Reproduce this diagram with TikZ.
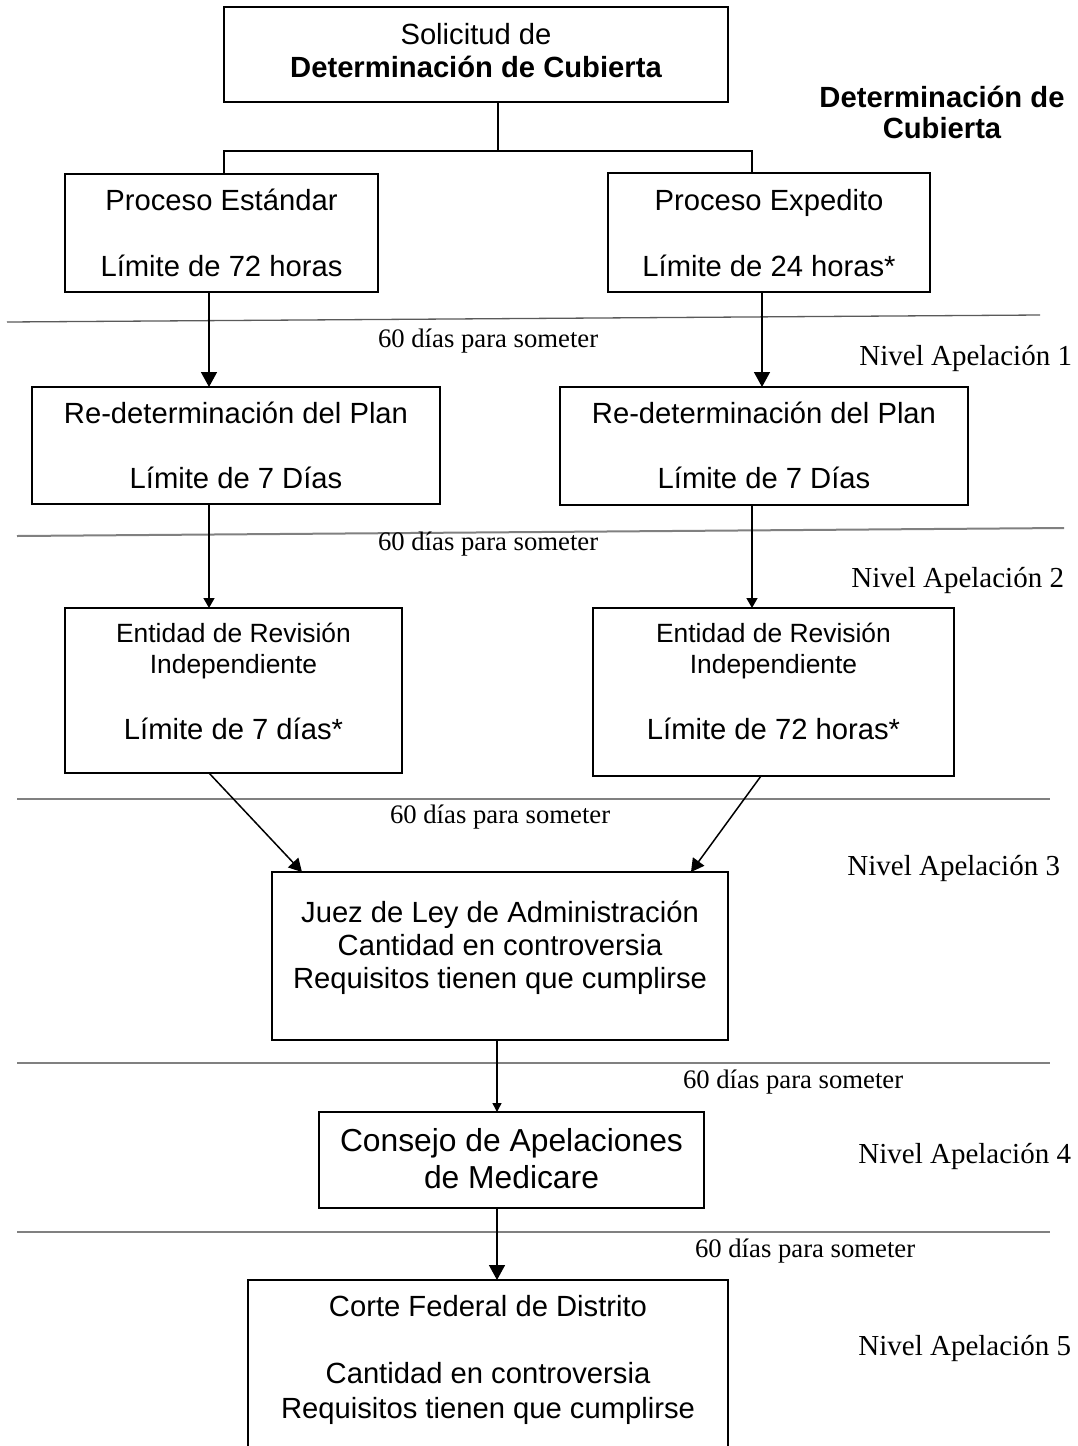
\documentclass[tikz,border=0pt]{standalone}
\usepackage{fontspec}
\setmainfont{Liberation Serif}
\newfontfamily\arialf{Liberation Sans}
\usetikzlibrary{arrows.meta}
\newcommand\fsMain{\arialf\fontsize{29.2}{34}\selectfont}
\newcommand\fsSmall{\arialf\fontsize{26.4}{30}\selectfont}
\newcommand\fsBig{\arialf\fontsize{31.8}{36}\selectfont}
\newcommand\fsDays{\fontsize{26.7}{30}\selectfont}
\newcommand\fsLevel{\fontsize{29}{33}\selectfont}
\begin{document}
\begin{tikzpicture}[x=1pt,y=-1pt,
  box/.style={draw,line width=2pt,inner sep=0pt,outer sep=0pt,rectangle},
  openbox/.style={inner sep=0pt,outer sep=0pt,rectangle},
  sidepath/.style={line width=2pt},
  txt/.style={inner sep=0pt,outer sep=0pt,anchor=base,font=\fsMain},
  txtb/.style={inner sep=0pt,outer sep=0pt,anchor=base,font=\fsMain\bfseries},
  txts/.style={inner sep=0pt,outer sep=0pt,anchor=base,font=\fsSmall},
  txtbig/.style={inner sep=0pt,outer sep=0pt,anchor=base,font=\fsBig},
  days/.style={inner sep=0pt,outer sep=0pt,anchor=base west,font=\fsDays},
  level/.style={inner sep=0pt,outer sep=0pt,anchor=base east,font=\fsLevel},
  conn/.style={line width=1.5pt},
  arrbig/.style={line width=1.5pt,-{Triangle[width=16pt,length=15pt]}},
  arrmid/.style={line width=1.5pt,-{Triangle[width=14pt,length=13pt]}},
  arrsmall/.style={line width=1.5pt,-{Triangle[width=11pt,length=10pt]}},
  arrtiny/.style={line width=1.5pt,-{Triangle[width=9pt,length=9pt]}},
  septhin/.style={line width=1.3pt,color={rgb,255:red,90;green,90;blue,90}},
  sep/.style={line width=2pt,color={rgb,255:red,128;green,128;blue,128}}]
\useasboundingbox (0,0) rectangle (1078,1446);
\fill[white] (0,0) rectangle (1078,1446);

% separators
\draw[septhin] (7,322) -- (1040,315);
\draw[sep] (17,536) -- (1064,528);
\draw[sep] (17,799) -- (1050,799);
\draw[sep] (17,1063) -- (1050,1063);
\draw[sep] (17,1232) -- (1050,1232);

% boxes
\node[box,minimum width=504pt,minimum height=95pt] (top) at (476,54.5) {};
\node[box,minimum width=313pt,minimum height=118pt] (b1) at (221.5,233) {};
\node[box,minimum width=322pt,minimum height=119pt] (b2) at (769,232.5) {};
\node[box,minimum width=408pt,minimum height=117pt] (b3) at (236,445.5) {};
\node[box,minimum width=408pt,minimum height=118pt] (b4) at (764,446) {};
\node[box,minimum width=337pt,minimum height=165pt] (b5) at (233.5,690.5) {};
\node[box,minimum width=361pt,minimum height=168pt] (b6) at (773.5,692) {};
\node[box,minimum width=456pt,minimum height=168pt] (b7) at (500,956) {};
\node[box,minimum width=385pt,minimum height=96pt] (b8) at (511.5,1160) {};
\node[openbox,minimum width=480pt,minimum height=172pt] (b9) at (488,1366) {};
\draw[sidepath] (b9.south west) -- (b9.north west) -- (b9.north east) -- (b9.south east);

% texts
\node[txt] (t0a) at (476,44.3) {Solicitud de};
\node[txtb] (t0b) at (476,77) {Determinación de Cubierta};
\node[txtb] (r1) at (942,107) {Determinación de};
\node[txtb] (r2) at (942,138) {Cubierta};

\node[txt] (t1a) at (221.5,210) {Proceso Estándar};
\node[txt] (t1b) at (221.5,276) {Límite de 72 horas};
\node[txt] (t2a) at (769,210) {Proceso Expedito};
\node[txt] (t2b) at (769,276) {Límite de 24 horas*};

\node[txt] (t3a) at (236,423) {Re-determinación del Plan};
\node[txt] (t3b) at (236,488) {Límite de 7 Días};
\node[txt] (t4a) at (764,423) {Re-determinación del Plan};
\node[txt] (t4b) at (764,488) {Límite de 7 Días};

\node[txts] (t5a) at (233.5,642) {Entidad de Revisión};
\node[txts] (t5b) at (233.5,673) {Independiente};
\node[txt] (t5c) at (233.5,739) {Límite de 7 días*};
\node[txts] (t6a) at (773.5,642) {Entidad de Revisión};
\node[txts] (t6b) at (773.5,673) {Independiente};
\node[txt] (t6c) at (773.5,739) {Límite de 72 horas*};

\node[txt] (t7a) at (500,922) {Juez de Ley de Administración};
\node[txt] (t7b) at (500,955) {Cantidad en controversia};
\node[txt] (t7c) at (500,988) {Requisitos tienen que cumplirse};

\node[txtbig] (t8a) at (511.5,1151) {Consejo de Apelaciones};
\node[txtbig] (t8b) at (511.5,1188) {de Medicare};

\node[txt] (t9a) at (488,1316) {Corte Federal de Distrito};
\node[txt] (t9b) at (488,1383) {Cantidad en controversia};
\node[txt] (t9c) at (488,1418) {Requisitos tienen que cumplirse};

% level labels
\node[days] (d1) at (378,347) {60 días para someter};
\node[days] (d2) at (378,550) {60 días para someter};
\node[days] (d3) at (390,823) {60 días para someter};
\node[days] (d4) at (683,1088) {60 días para someter};
\node[days] (d5) at (695,1257) {60 días para someter};

\node[level] (n1) at (1072,365) {Nivel Apelación 1};
\node[level] (n2) at (1064,587) {Nivel Apelación 2};
\node[level] (n3) at (1060,875) {Nivel Apelación 3};
\node[level] (n4) at (1071,1163) {Nivel Apelación 4};
\node[level] (n5) at (1071,1355) {Nivel Apelación 5};

% connector columns
\coordinate (jn) at (498,151);
\coordinate (jl) at (224,151);
\coordinate (jr) at (752,151);
\coordinate (cl) at (209,0);
\coordinate (cr1) at (762,0);
\coordinate (cr2) at (752,0);
\coordinate (cr3) at (761,0);
\coordinate (dl) at (302,0);
\coordinate (dr) at (691,0);
\coordinate (cm) at (497,0);

% connectors
\draw[conn] (top.south -| jn) -- (jn);
\draw[conn] (b1.north -| jl) -- (jl) -- (jr) -- (b2.north -| jr);
\draw[arrbig] (b1.south -| cl) -- (b3.north -| cl);
\draw[arrbig] (b2.south -| cr1) -- (b4.north -| cr1);
\draw[arrsmall] (b3.south -| cl) -- (b5.north -| cl);
\draw[arrsmall] (b4.south -| cr2) -- (b6.north -| cr2);
\draw[arrmid] (b5.south -| cl) -- (b7.north -| dl);
\draw[arrmid] (b6.south -| cr3) -- (b7.north -| dr);
\draw[arrtiny] (b7.south -| cm) -- (b8.north -| cm);
\draw[arrbig] (b8.south -| cm) -- (b9.north -| cm);
\end{tikzpicture}
\end{document}
